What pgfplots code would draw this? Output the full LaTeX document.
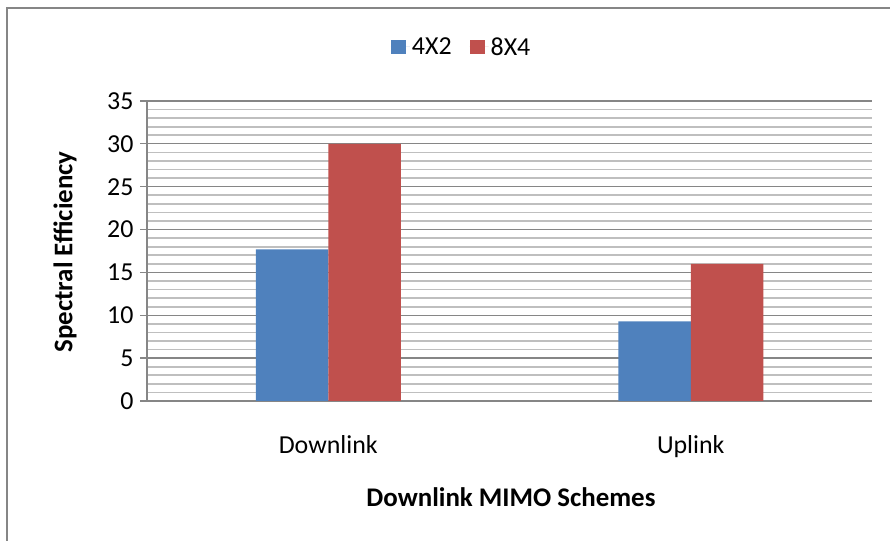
\documentclass[border=0pt]{standalone}
\usepackage{pgfplots}
\pgfplotsset{compat=1.18}
\usepackage{fontspec}
\setmainfont{Carlito}
\definecolor{cblue}{HTML}{4F81BD}
\definecolor{cred}{HTML}{C0504D}
\definecolor{majgrid}{HTML}{868686}
\definecolor{mingrid}{HTML}{BFBFBF}
\pgfplotsset{sqlegend/.style={legend image code/.code={\fill[#1] (0bp,-7bp) rectangle (15bp,7bp); \path (0bp,0bp) -- (19bp,0bp);}}}
\begin{document}
\begin{tikzpicture}[x=1bp,y=1bp]
\useasboundingbox (0,0) rectangle (890,541);
\draw[majgrid, line width=1.5bp] (7,-5) -- (7,533) -- (900,533);
\begin{axis}[at={(147bp,140bp)}, anchor=south west, width=725bp, height=300bp, scale only axis,
  ymin=0, ymax=35, ytick={0,5,...,35}, minor y tick num=4,
  xmin=-0.5, xmax=1.5, xtick={0,1}, xticklabels={Downlink,Uplink},
  axis x line=bottom, axis y line=left,
  axis line style={-, majgrid, line width=1.3bp},
  ymajorgrids, yminorgrids,
  major grid style={majgrid, line width=1.3bp},
  minor grid style={mingrid, line width=1.6bp},
  xtick style={draw=none},
  ytick style={majgrid, line width=1.3bp},
  tick align=outside, major tick length=7bp, minor tick length=0pt,
  /pgf/number format/assume math mode=true,
  tick label style={font=\fontsize{26}{30}\selectfont},
  xticklabel style={yshift=-24bp},
  yticklabel style={xshift=-3bp},
  label style={font=\fontsize{27}{32}\selectfont\bfseries},
  ylabel={Spectral Efficiency},
  ylabel style={at={(axis description cs:-0.113,0.497)}, anchor=center},
  xlabel={Downlink MIMO Schemes},
  xlabel style={at={(axis description cs:0.502,-0.32)}, anchor=center},
  bar width=0.2,
  legend columns=2,
  legend style={draw=none, fill=none, at={(axis description cs:0.434,1.18)}, anchor=center,
    font=\fontsize{26}{30}\selectfont, /tikz/every even column/.append style={column sep=16bp}},
  sqlegend,
]
\addplot[ybar, bar shift=-0.1, fill=cblue, draw=none] coordinates {(0,17.7) (1,9.3)};
\addlegendentry{4X2}
\addplot[ybar, bar shift=0.1, fill=cred, draw=none] coordinates {(0,30) (1,16)};
\addlegendentry{8X4}
\end{axis}
\end{tikzpicture}
\end{document}
